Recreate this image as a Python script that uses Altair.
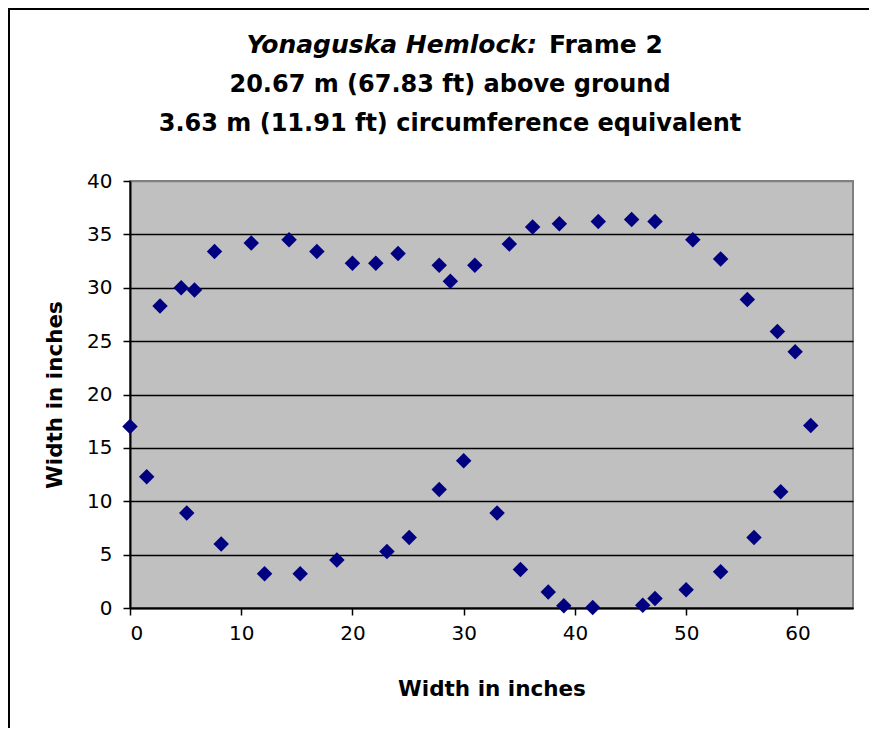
import altair as alt
import pandas as pd

# ---- data ----
x_upper = [2.7, 4.6, 5.8, 7.6, 10.9, 14.3, 16.8, 20.0, 22.1, 24.1, 27.8, 28.8, 31.0,
           34.1, 36.2, 38.6, 42.1, 45.1, 47.2, 50.6, 53.1, 55.5, 58.2, 59.8, 61.2]
y_upper = [28.3, 30.0, 29.8, 33.4, 34.2, 34.5, 33.4, 32.3, 32.3, 33.2, 32.1, 30.6, 32.1,
           34.1, 35.7, 36.0, 36.2, 36.4, 36.2, 34.5, 32.7, 28.9, 25.9, 24.0, 17.1]
x_lower = [58.5, 56.1, 53.1, 50.0, 47.2, 46.1, 41.6, 39.0, 37.6, 35.1, 33.0, 30.0,
           27.8, 25.1, 23.1, 18.6, 15.3, 12.1, 8.2, 5.1, 1.5, 0.0]
y_lower = [10.9, 6.6, 3.4, 1.7, 0.9, 0.25, 0.05, 0.2, 1.5, 3.6, 8.9, 13.8,
           11.1, 6.6, 5.3, 4.5, 3.2, 3.2, 6.0, 8.9, 12.3, 17.0]

x_ticks = [0, 10, 20, 30, 40, 50, 60]
y_ticks = [0, 5, 10, 15, 20, 25, 30, 35, 40]

title_italic = "Yonaguska Hemlock:"
title_plain = "Frame 2"
title_line2 = "20.67 m (67.83 ft) above ground"
title_line3 = "3.63 m (11.91 ft) circumference equivalent"
x_title = "Width in inches"
y_title = "Width in inches"

FONT = "DejaVu Sans"

df = pd.DataFrame({"x": x_upper + x_lower, "y": y_upper + y_lower})

W, H = 723, 427
PAD = {"left": 122, "top": 173, "right": 16, "bottom": 120}

points = alt.Chart(df).mark_point(
    shape="diamond", filled=True, size=240, color="#000080", opacity=1
).encode(
    x=alt.X("x:Q",
            scale=alt.Scale(domain=[0, 65], nice=False, zero=False),
            axis=alt.Axis(values=x_ticks, title=x_title, grid=False,
                          labelPadding=8, titlePadding=35, format="d")),
    y=alt.Y("y:Q",
            scale=alt.Scale(domain=[0, 40], nice=False),
            axis=alt.Axis(values=y_ticks, title=y_title, grid=True,
                          gridColor=alt.condition("datum.value === 40",
                                                  alt.value("#808080"),
                                                  alt.value("black")),
                          gridWidth=1.5,
                          labelPadding=11, titlePadding=20, format="d")),
)


def text_layer(txt, x, y, align, style="normal", size=24):
    return alt.Chart(pd.DataFrame({"t": [txt]})).mark_text(
        align=align, baseline="alphabetic", font=FONT, fontSize=size,
        fontWeight="bold", fontStyle=style, color="black"
    ).encode(text="t:N", x=alt.value(x), y=alt.value(y))


t1a = text_layer(title_italic, 407, -127.7, "right", "italic", 25)
t1b = text_layer(title_plain, 419, -127.7, "left", "normal", 25)
t2 = text_layer(title_line2, 320, -89.3, "center")
t3 = text_layer(title_line3, 320, -50, "center")

one = pd.DataFrame({"k": [0]})
frame_top = alt.Chart(one).mark_rule(color="black", strokeWidth=2).encode(
    x=alt.value(-PAD["left"]), x2=alt.value(W + PAD["right"]),
    y=alt.value(-PAD["top"] + 1))
frame_left = alt.Chart(one).mark_rule(color="black", strokeWidth=2).encode(
    x=alt.value(-PAD["left"] + 1), y=alt.value(-PAD["top"]),
    y2=alt.value(H + PAD["bottom"]))

chart = alt.layer(points, t1a, t1b, t2, t3, frame_top, frame_left).properties(
    width=W, height=H,
    autosize=alt.AutoSizeParams(type="none"),
    padding=PAD,
    background="white",
).configure_view(
    fill="#C0C0C0", stroke="#808080", strokeWidth=2
).configure_axis(
    labelFont=FONT, labelFontSize=20, labelColor="black",
    titleFont=FONT, titleFontSize=21.5, titleFontWeight="bold", titleColor="black",
    domainColor="black", domainWidth=2,
    tickColor="black", tickWidth=1.5, tickSize=7,
)

chart.save("out.html", embed_options={"renderer": "svg", "actions": False})
